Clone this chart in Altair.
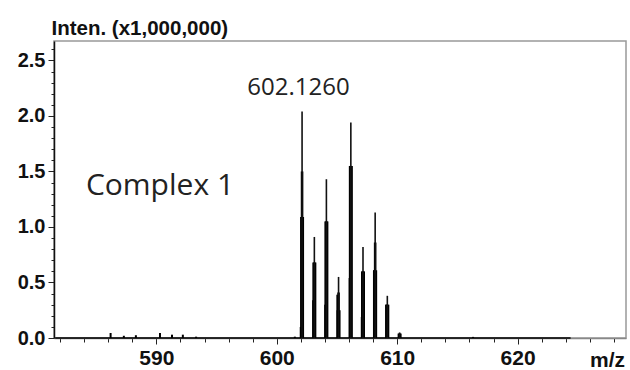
import altair as alt
import pandas as pd

# Isotope cluster (m/z centre) and intensity levels (x1,000,000)
iso_mz = [602.10, 603.12, 604.12, 605.13, 606.15, 607.16, 608.17, 609.18, 610.20]
iso_top = [2.04, 0.91, 1.43, 0.55, 1.94, 0.82, 1.13, 0.38, 0.05]
iso_mid = [1.50, 0.68, 1.05, 0.41, 1.55, 0.60, 0.86, 0.30, 0.04]
iso_base = [1.09, 0.68, 1.05, 0.25, 1.55, 0.60, 0.61, 0.30, 0.04]
shoulder_mz = [601.99, 603.02, 604.02, 605.03, 606.05, 607.06, 608.07, 609.08]
shoulder_h = [0.10, 0.34, 0.30, 0.39, 0.54, 0.19, 0.61, 0.30]

# Small background peaks
small_mz = [586.2, 587.3, 588.3, 590.3, 591.3, 592.2, 593.3, 601.5, 616.3]
small_h = [0.045, 0.02, 0.025, 0.045, 0.03, 0.03, 0.012, 0.012, 0.01]

# Baseline trace extent
base_mz = [581.6, 624.4]

# Axis ticks
x_ticks = list(range(582, 629, 2))
y_ticks = [round(i * 0.1, 1) for i in range(0, 27)]

# Annotations
ann_text = ["602.1260", "Complex 1"]
ann_x = [601.8, 590.3]
ann_y = [2.25, 1.37]
ann_size = [24, 30]

iso = pd.DataFrame({"mz": iso_mz, "top": iso_top, "mid": iso_mid, "base": iso_base, "zero": 0})
sh = pd.DataFrame({"mz": shoulder_mz, "h": shoulder_h, "zero": 0})
sm = pd.DataFrame({"mz": small_mz, "h": small_h, "zero": 0})
bl = pd.DataFrame({"mz": [base_mz[0]], "mz2": [base_mz[1]], "zero": [0]})
ann = pd.DataFrame({"t": ann_text, "x": ann_x, "y": ann_y, "s": ann_size})

xscale = alt.Scale(domain=[581.5, 629], nice=False, zero=False)
yscale = alt.Scale(domain=[0, 2.675], nice=False)

xaxis = alt.Axis(
    values=x_ticks,
    tickCount=100,
    labelExpr="datum.value % 10 === 0 ? format(datum.value, 'd') : ''",
    labelOverlap=False,
    tickSize={"condition": {"test": "datum.value % 10 === 0", "value": 6}, "value": 4},
    grid=False,
    domainColor="#888888",
    domainWidth=1.5,
    tickColor="#222222",
    tickWidth=1,
    labelFont="Liberation Sans",
    labelFontWeight="bold",
    labelFontSize=21,
    labelColor="#111111",
    labelPadding=3,
    title="m/z",
    titleFont="Liberation Sans",
    titleFontWeight="bold",
    titleFontSize=21,
    titleColor="#111111",
    titleAngle=0,
    titleX=553,
    titleY=22,
    titleAlign="center",
    titleBaseline="middle",
)

yaxis = alt.Axis(
    values=y_ticks,
    tickCount=100,
    labelExpr="round(datum.value * 10) % 5 === 0 ? format(datum.value, '.1f') : ''",
    labelOverlap=False,
    tickSize={"condition": {"test": "round(datum.value * 10) % 5 === 0", "value": 6}, "value": 3},
    grid=False,
    domainColor="#111111",
    domainWidth=1.5,
    tickColor="#222222",
    tickWidth=1,
    labelFont="Liberation Sans",
    labelFontWeight="bold",
    labelFontSize=20,
    labelColor="#111111",
    labelPadding=3,
    title="Inten. (x1,000,000)",
    titleFont="Liberation Sans",
    titleFontWeight="bold",
    titleFontSize=20.5,
    titleColor="#111111",
    titleAngle=0,
    titleX=-3,
    titleY=-3,
    titleAlign="left",
    titleBaseline="bottom",
)

baseline = alt.Chart(bl).mark_rule(color="black", strokeWidth=1.6).encode(
    x=alt.X("mz:Q", scale=xscale, axis=xaxis),
    x2="mz2:Q",
    y=alt.Y("zero:Q", scale=yscale, axis=yaxis),
)

thin = alt.Chart(iso).mark_rule(color="#111111", strokeWidth=1.6).encode(
    x="mz:Q", y="zero:Q", y2="top:Q"
)
midl = alt.Chart(iso).mark_rule(color="black", strokeWidth=2.6).encode(
    x="mz:Q", y="zero:Q", y2="mid:Q"
)
basel = alt.Chart(iso).mark_rule(color="black", strokeWidth=4).encode(
    x="mz:Q", y="zero:Q", y2="base:Q"
)
shl = alt.Chart(sh).mark_rule(color="black", strokeWidth=2).encode(
    x="mz:Q", y="zero:Q", y2="h:Q"
)
sml = alt.Chart(sm).mark_rule(color="black", strokeWidth=2).encode(
    x="mz:Q", y="zero:Q", y2="h:Q"
)

text = alt.Chart(ann).mark_text(font="Open Sans", color="#222222", align="center", baseline="middle").encode(
    x="x:Q", y="y:Q", text="t:N", size=alt.Size("s:Q", scale=None, legend=None)
)

chart = alt.layer(baseline, sml, shl, basel, midl, thin, text).properties(
    width=572,
    height=297,
    autosize=alt.AutoSizeParams(type="none"),
    padding={"left": 54, "top": 41, "right": 4, "bottom": 32},
    background="white",
).configure_view(stroke="#999999", strokeWidth=1.5).configure_axis(labelOverlap=False)

chart.save("out.html", embed_options={"renderer": "svg", "actions": False})
